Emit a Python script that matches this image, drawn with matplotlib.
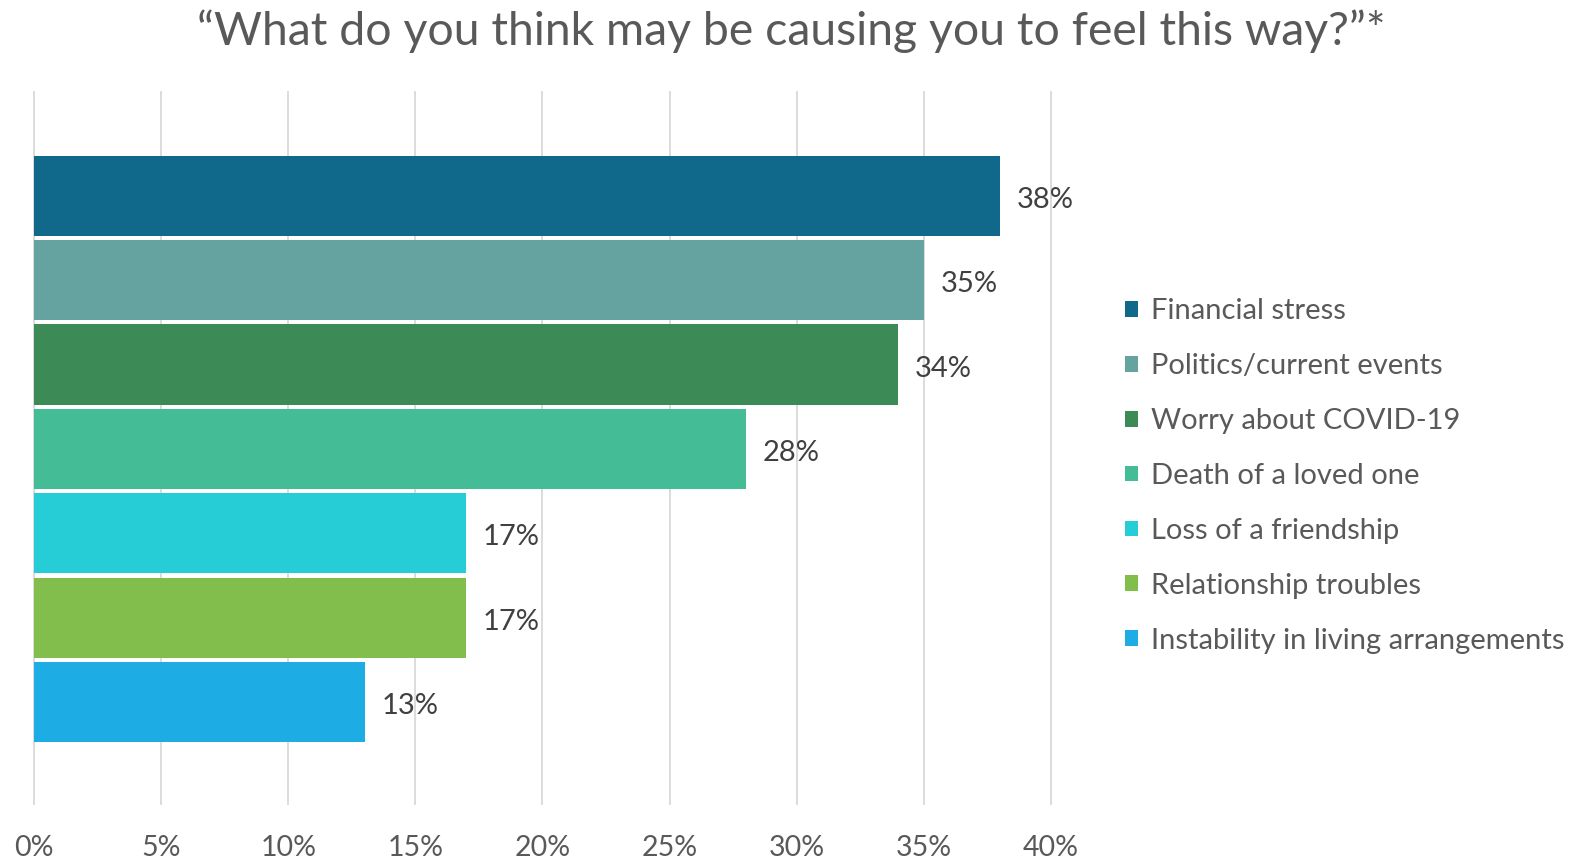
import matplotlib
matplotlib.use("Agg")
import matplotlib.pyplot as plt
from matplotlib.patches import Patch

# Данные
categories = [
    "Financial stress",
    "Politics/current events",
    "Worry about COVID-19",
    "Death of a loved one",
    "Loss of a friendship",
    "Relationship troubles",
    "Instability in living arrangements",
]
values = [38, 35, 34, 28, 17, 17, 13]
colors = ["#10698A", "#64A39F", "#3C8A55", "#44BC96",
          "#26CDD6", "#82BE4B", "#1DACE3"]
xticks = [0, 5, 10, 15, 20, 25, 30, 35, 40]

TEXT = "#595959"
GRID = "#D9D9D9"

plt.rcParams["font.family"] = ["Lato", "DejaVu Sans"]

fig = plt.figure(figsize=(15.96, 8.61), dpi=100)
ax = fig.add_axes([0.0213, 0.0662, 0.6372, 0.8269])

ypos = list(range(len(values)))
ax.barh(ypos, values, height=0.95, color=colors, zorder=3)

for y, v in zip(ypos, values):
    ax.annotate(f"{v}%", xy=(v, y), xytext=(12, -3), textcoords="offset points",
                va="center", ha="left", fontsize=21, color="#404040")

ax.set_xlim(0, 40)
ax.set_ylim(7.21, -1.23)
ax.set_xticks(xticks)
ax.set_xticklabels([f"{t}%" for t in xticks], fontsize=20.5, color=TEXT)
ax.set_yticks([])
ax.tick_params(axis="x", length=0, pad=22)
for s in ax.spines.values():
    s.set_visible(False)
ax.grid(axis="x", color=GRID, linewidth=1.3, zorder=0)
for gl in ax.get_xgridlines():
    gl.set_clip_on(False)

fig.text(0.496, 0.964, "\u201cWhat do you think may be causing you to feel this way?\u201d*",
         ha="center", va="center", fontsize=33.4, color=TEXT)

handles = [Patch(facecolor=c, edgecolor="none") for c in colors]
fig.legend(handles, categories, loc="upper left",
           bbox_to_anchor=(0.705, 0.6535), frameon=False,
           fontsize=21, labelcolor=TEXT, handlelength=0.45, handleheight=0.45,
           handletextpad=0.45, labelspacing=0.99, borderaxespad=0,
           borderpad=0)

fig.savefig("out.png", dpi=100)
